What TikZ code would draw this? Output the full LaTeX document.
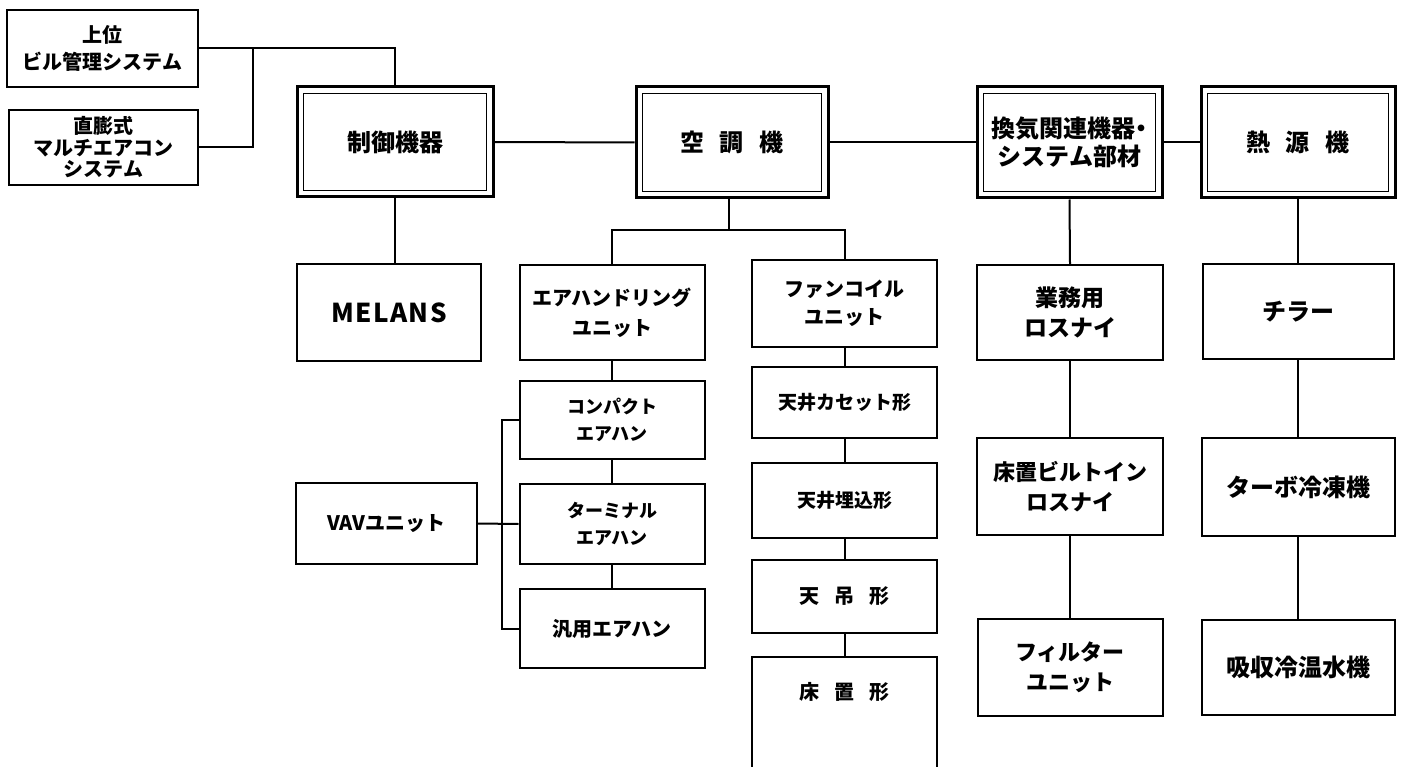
\documentclass[tikz,border=0pt]{standalone}
\usepackage{fontspec}
\setmainfont{Noto Sans CJK JP}
\newcommand\fsz[2]{\bfseries\fontsize{#1}{#2}\selectfont}
\begin{document}
\begin{tikzpicture}[x=1pt,y=1pt,
  txt/.style={align=center, inner sep=0pt, font=\fsz{20}{27}},
  box/.style={txt, draw, line width=2pt},
  sz/.style 2 args={minimum width=#1pt, minimum height=#2pt},
  mainbox/.style={box, line width=3pt, font=\fsz{24}{28}},
  innerline/.style={line width=1.3pt},
  conn/.style={line width=2pt}]
\useasboundingbox (0,0) rectangle (1404,-767);
\clip (0,0) rectangle (1404,-767);

% top-left boxes
\node[box, sz={191}{77}] (top1) at (102.5,-48.5) {上位\\ビル管理システム};
\node[box, sz={189}{75}, font=\fsz{20}{21.5}] (top2) at (103.5,-147.5) {直膨式\\マルチエアコン\\システム};

% main double boxes
\node[mainbox, sz={196}{110}] (ctrl) at (395,-142) {制御機器};
\node[mainbox, sz={192}{111}] (ac) at (732,-142.5) {空\hspace{0.65em}調\hspace{0.65em}機};
\node[mainbox, sz={185}{111}] (vent) at (1069.5,-142.5) {換気関連機器\kern-0.25em・\kern-0.25em\\システム部材};
\node[mainbox, sz={194}{111}] (heat) at (1298,-142.5) {熱\hspace{0.65em}源\hspace{0.65em}機};
\foreach \n in {ctrl,ac,vent,heat}
  \draw[innerline] ([shift={(8,-8)}]\n.north west) rectangle ([shift={(-8,8)}]\n.south east);

% control column
\node[box, sz={184}{97}, font=\fsz{26}{30}\addfontfeature{LetterSpace=6}] (melans) at (389,-312.5) {MELANS};
\node[box, sz={181}{81}] (vav) at (386.5,-523.5) {VAVユニット};

% air handling column
\node[box, sz={185}{95}, font=\fsz{20}{30}] (ahu) at (612,-312.5) {エアハンドリング\\ユニット};
\node[box, sz={185}{78}, font=\fsz{18}{27}] (cpt) at (612,-420) {コンパクト\\エアハン};
\node[box, sz={185}{80}, font=\fsz{18}{27}] (term) at (612,-524) {ターミナル\\エアハン};
\node[box, sz={185}{79}, font=\fsz{20}{27}] (gen) at (612,-628.5) {汎用エアハン};

% fan coil column
\node[box, sz={185}{87}, font=\fsz{20}{28}] (fan) at (844.5,-303.5) {ファンコイル\\ユニット};
\node[box, sz={185}{71}, font=\fsz{19}{27}] (cas) at (844.5,-402.5) {天井カセット形};
\node[box, sz={185}{75}, font=\fsz{19}{27}] (ume) at (844.5,-500.5) {天井埋込形};
\node[box, sz={185}{73}, font=\fsz{20}{27}] (tsu) at (844.5,-596.5) {天\hspace{0.75em}吊\hspace{0.75em}形};
\node[txt, sz={185}{70}, font=\fsz{20}{27}] (yuka) at (844.5,-692) {床\hspace{0.75em}置\hspace{0.75em}形};
\draw[line width=2pt] ([yshift=-90pt]yuka.south west) -- (yuka.north west) -- (yuka.north east) -- ([yshift=-90pt]yuka.south east);

% ventilation column
\node[box, sz={186}{95}, font=\fsz{23}{30}] (gyo) at (1070,-312.5) {業務用\\ロスナイ};
\node[box, sz={186}{97}, font=\fsz{22}{30}] (ybi) at (1070,-486.5) {床置ビルトイン\\ロスナイ};
\node[box, sz={185}{97}, font=\fsz{22}{30}] (fil) at (1070,-667.5) {フィルター\\ユニット};

% heat source column
\node[box, sz={191}{95}, font=\fsz{24}{30}] (chi) at (1298,-311.5) {チラー};
\node[box, sz={193}{98}, font=\fsz{24}{30}] (tur) at (1298,-487) {ターボ冷凍機};
\node[box, sz={193}{95}, font=\fsz{24}{30}] (kyu) at (1298,-667.5) {吸収冷温水機};

% connectors
\coordinate (j1) at (253,-48.5);
\draw[conn] (top1.east) -| (ctrl.north);
\draw[conn] (top2.east) -| (j1);
\draw[conn] (ctrl.east) -- (ac.west);
\draw[conn] (ac.east) -- (vent.west);
\draw[conn] (vent.east) -- (heat.west);
\draw[conn] (ctrl.south) -- (ctrl.south |- melans.north);

\coordinate (br) at (729,-230);
\draw[conn] (ac.south -| br) -- (br);
\draw[conn] (ahu.north) |- (fan.north |- br) -- (fan.north);
\draw[conn] (ahu.south) -- (cpt.north);
\draw[conn] (cpt.south) -- (term.north);
\draw[conn] (term.south) -- (gen.north);
\coordinate (bx) at (502,0);
\draw[conn] (cpt.west) -- (cpt.west -| bx) -- (gen.west -| bx) -- (gen.west);
\draw[conn] (vav.east) -- (term.west);

\draw[conn] (fan.south) -- (cas.north);
\draw[conn] (cas.south) -- (ume.north);
\draw[conn] (ume.south) -- (tsu.north);
\draw[conn] (tsu.south) -- (yuka.north);

\draw[conn] (vent.south) -- (gyo.north);
\draw[conn] (gyo.south) -- (ybi.north);
\draw[conn] (ybi.south) -- (fil.north);

\draw[conn] (heat.south) -- (chi.north);
\draw[conn] (chi.south) -- (tur.north);
\draw[conn] (tur.south) -- (kyu.north);
\end{tikzpicture}
\end{document}
